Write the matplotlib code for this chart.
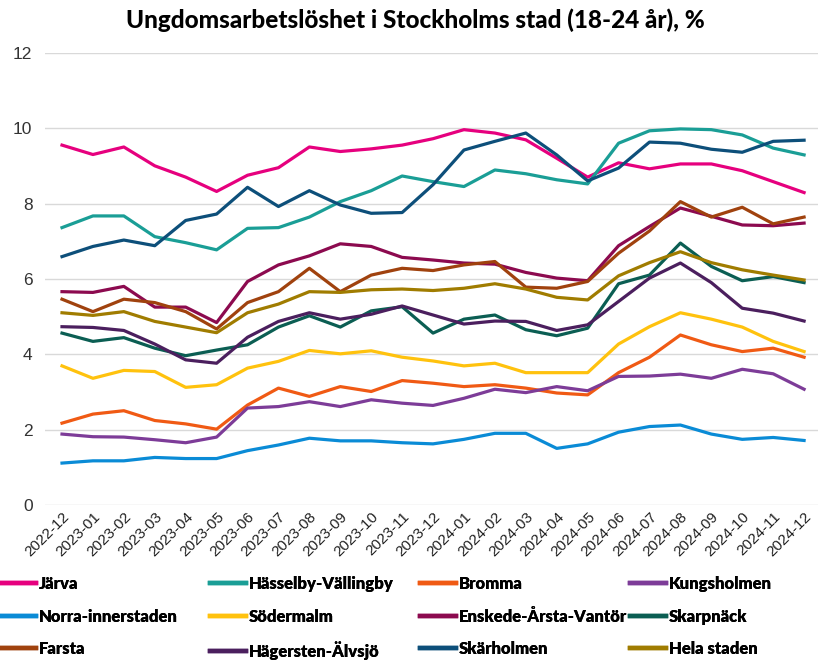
import numpy as np
import matplotlib.pyplot as plt

months = ['2022-12', '2023-01', '2023-02', '2023-03', '2023-04', '2023-05', '2023-06',
          '2023-07', '2023-08', '2023-09', '2023-10', '2023-11', '2023-12', '2024-01',
          '2024-02', '2024-03', '2024-04', '2024-05', '2024-06', '2024-07', '2024-08',
          '2024-09', '2024-10', '2024-11', '2024-12']

jarva = [9.55, 9.3, 9.5, 9.0, 8.7, 8.32, 8.75, 8.95, 9.5, 9.38, 9.45, 9.55, 9.72, 9.96,
         9.87, 9.69, 9.2, 8.7, 9.08, 8.92, 9.05, 9.05, 8.87, 8.58, 8.29]
hasselby = [7.36, 7.67, 7.67, 7.12, 6.96, 6.77, 7.34, 7.36, 7.64, 8.05, 8.34, 8.73, 8.58,
            8.45, 8.89, 8.79, 8.63, 8.52, 9.6, 9.93, 9.98, 9.96, 9.82, 9.47, 9.29]
bromma = [2.17, 2.41, 2.5, 2.24, 2.15, 2.01, 2.65, 3.1, 2.88, 3.14, 3.01, 3.3, 3.23, 3.14,
          3.19, 3.1, 2.97, 2.92, 3.51, 3.92, 4.51, 4.25, 4.07, 4.16, 3.92]
kungsholmen = [1.88, 1.81, 1.8, 1.73, 1.65, 1.8, 2.57, 2.61, 2.74, 2.61, 2.79, 2.7, 2.64,
               2.83, 3.07, 2.98, 3.14, 3.03, 3.41, 3.42, 3.47, 3.36, 3.6, 3.48, 3.07]
norra = [1.11, 1.17, 1.17, 1.26, 1.23, 1.23, 1.44, 1.59, 1.77, 1.7, 1.7, 1.65, 1.62, 1.74,
         1.9, 1.9, 1.5, 1.62, 1.93, 2.08, 2.12, 1.88, 1.74, 1.79, 1.71]
sodermalm = [3.69, 3.36, 3.57, 3.54, 3.12, 3.19, 3.63, 3.81, 4.1, 4.01, 4.09, 3.92, 3.82,
             3.69, 3.76, 3.51, 3.51, 3.51, 4.27, 4.73, 5.1, 4.93, 4.72, 4.34, 4.07]
enskede = [5.66, 5.64, 5.8, 5.25, 5.25, 4.84, 5.93, 6.37, 6.61, 6.93, 6.86, 6.57, 6.5, 6.42,
           6.39, 6.17, 6.02, 5.95, 6.88, 7.39, 7.88, 7.66, 7.43, 7.41, 7.48]
skarpnack = [4.56, 4.34, 4.44, 4.16, 3.96, 4.11, 4.25, 4.72, 5.02, 4.72, 5.15, 5.26, 4.56,
             4.93, 5.04, 4.65, 4.49, 4.69, 5.87, 6.1, 6.95, 6.33, 5.95, 6.06, 5.9]
farsta = [5.46, 5.13, 5.46, 5.37, 5.13, 4.67, 5.37, 5.66, 6.28, 5.66, 6.1, 6.28, 6.22, 6.37,
          6.46, 5.78, 5.75, 5.93, 6.68, 7.27, 8.05, 7.64, 7.9, 7.46, 7.64]
hagersten = [4.73, 4.71, 4.63, 4.27, 3.85, 3.76, 4.45, 4.87, 5.1, 4.93, 5.06, 5.28, 5.04,
             4.8, 4.88, 4.87, 4.63, 4.78, 5.4, 6.02, 6.42, 5.9, 5.22, 5.09, 4.88]
skarholmen = [6.59, 6.86, 7.03, 6.88, 7.55, 7.72, 8.43, 7.92, 8.34, 7.96, 7.74, 7.76, 8.5,
              9.42, 9.65, 9.87, 9.29, 8.6, 8.94, 9.63, 9.6, 9.44, 9.36, 9.65, 9.68]
hela = [5.1, 5.03, 5.13, 4.87, 4.72, 4.57, 5.1, 5.33, 5.66, 5.64, 5.71, 5.73, 5.69, 5.75,
        5.87, 5.73, 5.51, 5.44, 6.08, 6.43, 6.72, 6.43, 6.24, 6.1, 5.97]

names = ['Järva', 'Hässelby-Vällingby', 'Bromma', 'Kungsholmen',
         'Norra-innerstaden', 'Södermalm', 'Enskede-Årsta-Vantör', 'Skarpnäck',
         'Farsta', 'Hägersten-Älvsjö', 'Skärholmen', 'Hela staden']
series = [jarva, hasselby, bromma, kungsholmen, norra, sodermalm, enskede, skarpnack,
          farsta, hagersten, skarholmen, hela]
colors = ['#e6007e', '#1a9e96', '#f05a14', '#7d3c98',
          '#0a8bd6', '#ffc20e', '#8c0a4f', '#0b5e53',
          '#a0420e', '#4b1f5e', '#0d4f7a', '#a07c00']

plt.rcParams['font.family'] = ['Lato', 'DejaVu Sans']

fig = plt.figure(figsize=(8.18, 6.6), dpi=100)
ax = fig.add_axes([45 / 818, 0.235, 1 - 45 / 818, 0.685])

x = np.arange(len(months))
handles = []
for name, vals, col in zip(names, series, colors):
    h, = ax.plot(x, vals, color=col, lw=2.3, label=name, solid_joinstyle='round')
    handles.append(h)

ax.set_xlim(-0.55, 24.45)
ax.set_ylim(0, 12)
ax.yaxis.grid(True, color='#d9d9d9', lw=1)
ax.set_axisbelow(True)
for s in ax.spines.values():
    s.set_visible(False)
ax.tick_params(axis='both', length=0, colors='#333333')
ax.tick_params(axis='y', pad=9)
ax.set_yticks(range(0, 13, 2))
ax.set_yticklabels([str(v) for v in range(0, 13, 2)], family='Liberation Sans', fontsize=12.5)
ax.set_xticks(x)
ax.set_xticklabels(months, rotation=45, ha='right', rotation_mode='anchor',
                   fontsize=11, color='#222222', family='Liberation Sans')

fig.suptitle('Ungdomsarbetslöshet i Stockholms stad (18-24 år), %',
             fontsize=17.5, fontweight='black', x=0.508, y=0.988)

# four one-column legends so the columns sit at fixed, equal spacing
for c in range(4):
    idx = [c, c + 4, c + 8]
    leg = fig.legend([handles[i] for i in idx], [names[i] for i in idx],
                     loc='upper left', bbox_to_anchor=(c * 210 / 818, 1 - 576 / 660),
                     borderaxespad=0, borderpad=0, frameon=False,
                     handlelength=2.15, handletextpad=0.2, labelspacing=1.0,
                     prop={'weight': 'heavy', 'size': 12})
    for line in leg.get_lines():
        line.set_linewidth(3.2)
    fig.add_artist(leg)

fig.savefig('out.png', dpi=100)
